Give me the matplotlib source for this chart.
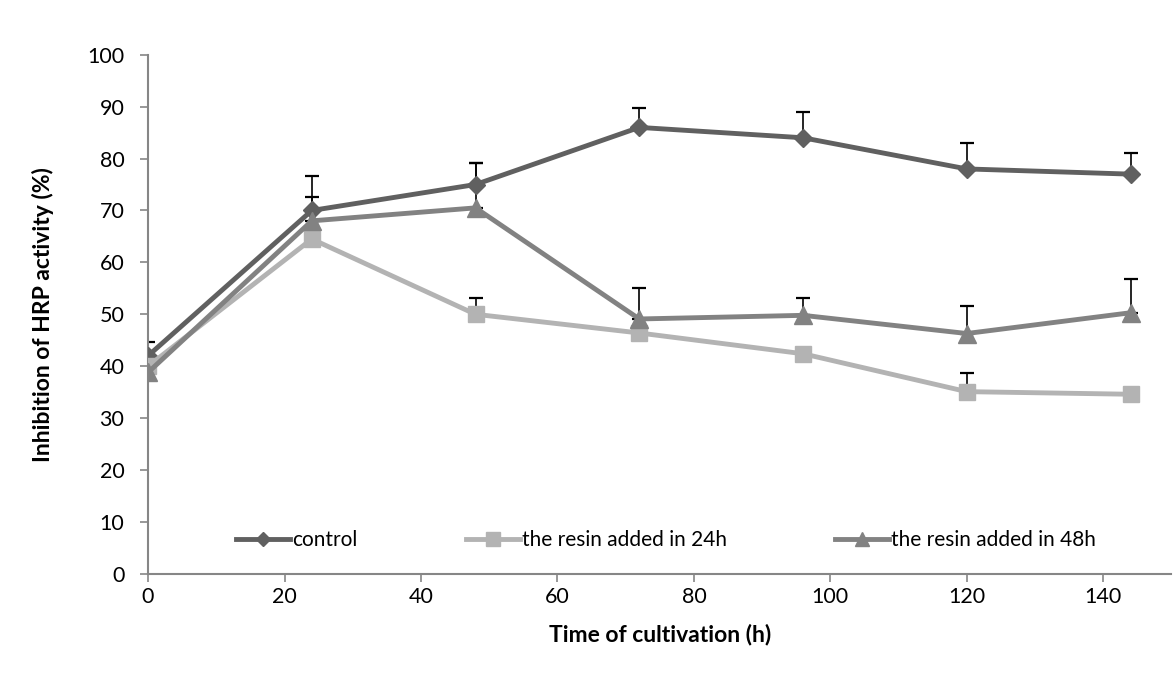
import matplotlib
matplotlib.use("Agg")
import matplotlib.pyplot as plt

plt.rcParams["font.family"] = ["Lato", "DejaVu Sans"]

# data
hours = [0, 24, 48, 72, 96, 120, 144]
control = [42, 70, 75, 86, 84, 78, 77]
control_err = [2.6, 6.7, 4.2, 3.8, 5.0, 5.0, 4.1]
resin_24h = [40, 64.5, 50, 46.4, 42.4, 35.1, 34.6]
resin_24h_err = [0, 0, 3.2, 0, 0, 3.6, 0]
resin_48h = [38.8, 68, 70.5, 49.1, 49.8, 46.3, 50.3]
resin_48h_err = [0, 4.6, 8.7, 6.0, 3.4, 5.3, 6.5]

series = [
    ("control", control, control_err, "#606060", "D", 9),
    ("the resin added in 24h", resin_24h, resin_24h_err, "#b3b3b3", "s", 12),
    ("the resin added in 48h", resin_48h, resin_48h_err, "#828282", "^", 13),
]

fig = plt.figure(figsize=(11.75, 6.84), dpi=100)
ax = fig.add_axes([0.126, 0.161, 0.871, 0.759])

for label, vals, errs, color, marker, ms in series:
    ax.errorbar(hours, vals, yerr=[[0] * len(errs), errs], fmt="none",
                ecolor="black", elinewidth=1.2, capsize=5, capthick=1.6, zorder=2)
    ax.plot(hours, vals, color=color, lw=3.5, marker=marker, ms=ms,
            mec=color, label=label, zorder=3)

ax.set_xlim(0, 150)
ax.set_ylim(0, 100)
ax.set_xticks(range(0, 141, 20))
ax.set_yticks(range(0, 101, 10))
ax.tick_params(labelsize=15.5, colors="#868686", labelcolor="black",
               length=6, width=1.2)
ax.tick_params(axis="y", pad=11)
for side in ("top", "right"):
    ax.spines[side].set_visible(False)
for side in ("left", "bottom"):
    ax.spines[side].set_color("#868686")
    ax.spines[side].set_linewidth(1.5)

ax.set_xlabel("Time of cultivation (h)", fontsize=16.5, fontweight="bold", labelpad=12)
ax.set_ylabel("Inhibition of HRP activity (%)", fontsize=16.5, fontweight="bold", labelpad=24)

ax.legend(loc="center", bbox_to_anchor=(0.506, 0.065), ncol=3, frameon=False,
          fontsize=15, handlelength=2.6, handletextpad=0.1, columnspacing=5.2,
          markerscale=0.8)

fig.savefig("out.png", dpi=100)
